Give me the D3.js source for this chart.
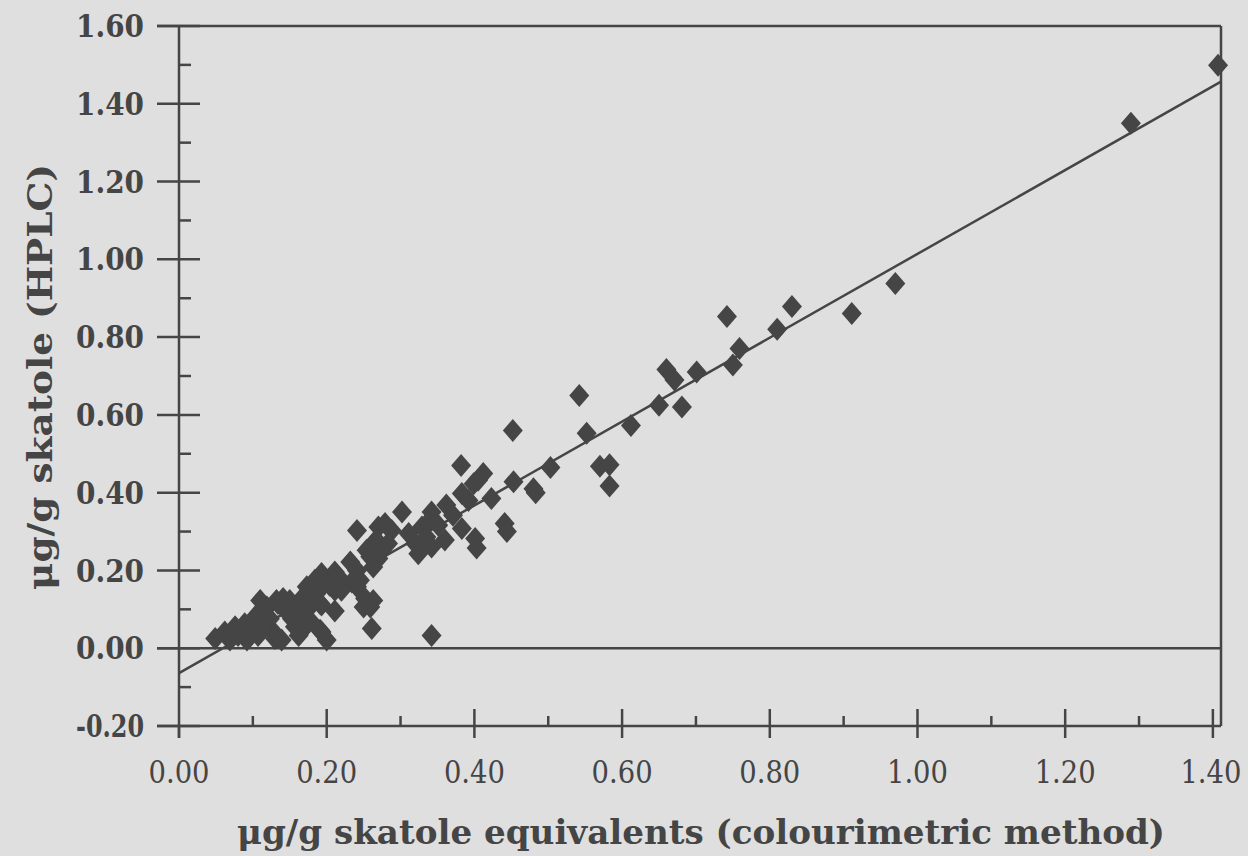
<!DOCTYPE html>
<html>
<head>
<meta charset="utf-8">
<script src="https://cdn.jsdelivr.net/npm/d3@7"></script>
<style>
  html, body { margin: 0; padding: 0; background: #dfdfdf; }
  svg { display: block; }
</style>
</head>
<body>
<div id="chart"></div>
<script>
// Skatole: colourimetric method (x) vs HPLC (y), µg/g
const colourimetric = [
    1.407, 1.289, 0.970, 0.911, 0.830, 0.810, 0.742, 0.759, 0.750, 0.701,
    0.660, 0.671, 0.681, 0.650, 0.612, 0.552, 0.542, 0.570, 0.583, 0.583,
    0.503, 0.452, 0.453, 0.480, 0.483, 0.441, 0.444, 0.423,
    0.382, 0.412, 0.405, 0.399, 0.383, 0.392, 0.362, 0.371, 0.342, 0.338,
    0.351, 0.383, 0.401, 0.403, 0.302, 0.279, 0.288, 0.311, 0.320, 0.329,
    0.335, 0.342, 0.360, 0.324, 0.342,
    0.241, 0.270, 0.267, 0.261, 0.270, 0.263, 0.283, 0.274, 0.254, 0.259,
    0.232, 0.241, 0.245, 0.234, 0.241, 0.211, 0.216, 0.204, 0.211, 0.216,
    0.220, 0.252, 0.263, 0.250, 0.259, 0.211, 0.261, 0.191, 0.200, 0.193,
    0.186, 0.191, 0.175, 0.177, 0.164, 0.168, 0.150, 0.141, 0.155, 0.132,
    0.110, 0.119, 0.173, 0.184, 0.189, 0.193, 0.193, 0.177, 0.173, 0.171,
    0.162, 0.157, 0.153, 0.141, 0.144, 0.134, 0.126, 0.130, 0.139, 0.123,
    0.116, 0.105, 0.101, 0.112, 0.107, 0.089, 0.094, 0.092, 0.076, 0.080,
    0.062, 0.069, 0.049
];
const hplc = [
    1.499, 1.350, 0.938, 0.861, 0.879, 0.820, 0.853, 0.771, 0.728, 0.710,
    0.717, 0.690, 0.620, 0.625, 0.573, 0.553, 0.650, 0.468, 0.472, 0.417,
    0.465, 0.560, 0.428, 0.410, 0.400, 0.321, 0.300, 0.385,
    0.470, 0.449, 0.432, 0.423, 0.398, 0.380, 0.368, 0.342, 0.350, 0.325,
    0.316, 0.308, 0.282, 0.258, 0.350, 0.321, 0.303, 0.295, 0.269, 0.312,
    0.286, 0.260, 0.278, 0.243, 0.033,
    0.303, 0.312, 0.278, 0.252, 0.231, 0.209, 0.269, 0.252, 0.252, 0.235,
    0.222, 0.200, 0.175, 0.170, 0.158, 0.196, 0.175, 0.162, 0.149, 0.183,
    0.149, 0.128, 0.123, 0.106, 0.106, 0.096, 0.051, 0.046, 0.021, 0.042,
    0.141, 0.115, 0.132, 0.106, 0.123, 0.098, 0.123, 0.115, 0.098, 0.123,
    0.123, 0.106, 0.158, 0.175, 0.149, 0.192, 0.111, 0.072, 0.076, 0.055,
    0.033, 0.055, 0.076, 0.128, 0.098, 0.115, 0.046, 0.025, 0.021, 0.076,
    0.098, 0.085, 0.068, 0.055, 0.033, 0.063, 0.042, 0.021, 0.055, 0.033,
    0.042, 0.021, 0.025
];

// Fitted line y = a + b x
const fitIntercept = -0.064;
const fitSlope = 1.078;

const xTicks = [0, 0.2, 0.4, 0.6, 0.8, 1.0, 1.2, 1.4];
const xMinorTicks = [0.1, 0.3, 0.5, 0.7, 0.9, 1.1, 1.3];
const yTicks = [-0.2, 0, 0.2, 0.4, 0.6, 0.8, 1.0, 1.2, 1.4, 1.6];
const yMinorTicks = [-0.1, 0.1, 0.3, 0.5, 0.7, 0.9, 1.1, 1.3, 1.5];

const xTitle = "\u03bcg/g skatole equivalents (colourimetric method)";
const yTitle = "\u03bcg/g skatole (HPLC)";

const width = 1248, height = 856;
const ink = "#454545";
const font = "'DejaVu Serif', 'Liberation Serif', serif";

const svg = d3.select("#chart")
    .append("svg")
    .attr("width", width)
    .attr("height", height);

svg.append("rect")
    .attr("width", width)
    .attr("height", height)
    .attr("fill", "#dfdfdf");

// Scales
const xMax = 1.411;
const x = d3.scaleLinear().domain([0, xMax]).range([179, 1221]);
const y = d3.scaleLinear().domain([-0.2, 1.6]).range([726, 26]);

const line = (x1, y1, x2, y2) => svg.append("line")
    .attr("x1", x1).attr("y1", y1).attr("x2", x2).attr("y2", y2)
    .attr("stroke", ink)
    .attr("stroke-width", 2.5);

// Frame
line(x(0), y(1.6), x(0), y(-0.2) + 12);
line(x(0) - 22, y(1.6), x(xMax), y(1.6));
line(x(xMax), y(1.6), x(xMax), y(-0.2));
line(x(0) - 22, y(-0.2), x(xMax), y(-0.2));
// zero line
line(x(0) - 22, y(0), x(xMax), y(0));

// Y ticks
svg.append("g").selectAll("line")
    .data(yTicks)
    .enter()
    .append("line")
    .attr("x1", x(0) - 22)
    .attr("x2", x(0) + 21)
    .attr("y1", d => y(d))
    .attr("y2", d => y(d))
    .attr("stroke", ink)
    .attr("stroke-width", 2.5);

svg.append("g").selectAll("line")
    .data(yMinorTicks)
    .enter()
    .append("line")
    .attr("x1", x(0))
    .attr("x2", x(0) + 12)
    .attr("y1", d => y(d))
    .attr("y2", d => y(d))
    .attr("stroke", ink)
    .attr("stroke-width", 2.5);

svg.append("g").selectAll("text")
    .data(yTicks)
    .enter()
    .append("text")
    .attr("x", 144)
    .attr("y", d => y(d))
    .attr("dy", "0.36em")
    .attr("text-anchor", "end")
    .attr("font-family", font)
    .attr("font-weight", "bold")
    .attr("font-size", "31px")
    .attr("textLength", 68)
    .attr("lengthAdjust", "spacingAndGlyphs")
    .attr("fill", ink)
    .text(d => d.toFixed(2));

// X ticks
svg.append("g").selectAll("line")
    .data(xTicks)
    .enter()
    .append("line")
    .attr("x1", d => x(d))
    .attr("x2", d => x(d))
    .attr("y1", d => d === 0 ? y(-0.2) : y(-0.2) - 17)
    .attr("y2", y(-0.2) + 12)
    .attr("stroke", ink)
    .attr("stroke-width", 2.5);

svg.append("g").selectAll("line")
    .data(xMinorTicks)
    .enter()
    .append("line")
    .attr("x1", d => x(d))
    .attr("x2", d => x(d))
    .attr("y1", y(-0.2) - 10)
    .attr("y2", y(-0.2))
    .attr("stroke", ink)
    .attr("stroke-width", 2.5);

svg.append("g").selectAll("text")
    .data(xTicks)
    .enter()
    .append("text")
    .attr("x", d => d === 1.4 ? x(d) - 2 : x(d))
    .attr("y", 783)
    .attr("text-anchor", "middle")
    .attr("font-family", font)
    .attr("font-size", "31px")
    .attr("textLength", 61)
    .attr("lengthAdjust", "spacingAndGlyphs")
    .attr("fill", ink)
    .text(d => d.toFixed(2));

// Fitted line
line(x(0), y(fitIntercept), x(xMax), y(fitIntercept + fitSlope * xMax));

// Points (diamonds)
const points = colourimetric.map((v, i) => ({ x: v, y: hplc[i] }));
const hw = 10, hh = 11.5;
svg.append("g").selectAll("path")
    .data(points)
    .enter()
    .append("path")
    .attr("transform", d => `translate(${x(d.x)},${y(d.y)})`)
    .attr("d", `M0,${-hh}L${hw},0L0,${hh}L${-hw},0Z`)
    .attr("fill", ink);

// Axis titles
svg.append("text")
    .attr("x", 701)
    .attr("y", 844)
    .attr("text-anchor", "middle")
    .attr("font-family", font)
    .attr("font-weight", "bold")
    .attr("font-size", "34px")
    .attr("textLength", 928)
    .attr("lengthAdjust", "spacingAndGlyphs")
    .attr("fill", ink)
    .text(xTitle);

svg.append("text")
    .attr("transform", "translate(52,377) rotate(-90)")
    .attr("text-anchor", "middle")
    .attr("font-family", font)
    .attr("font-weight", "bold")
    .attr("font-size", "34px")
    .attr("textLength", 426)
    .attr("lengthAdjust", "spacingAndGlyphs")
    .attr("fill", ink)
    .text(yTitle);
</script>
</body>
</html>
